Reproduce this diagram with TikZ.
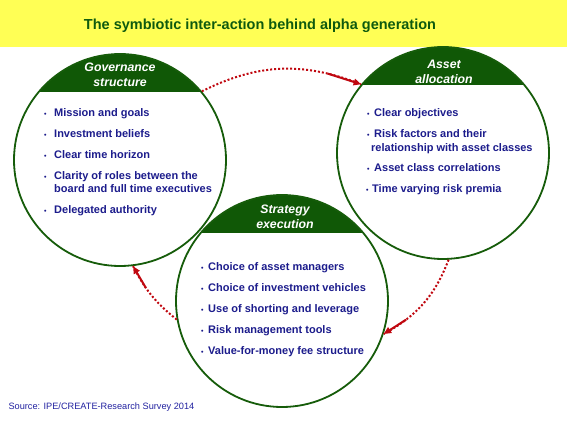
\documentclass[tikz,border=0pt]{standalone}
\usepackage{fontspec}
\setmainfont{Liberation Sans}
\usetikzlibrary{arrows.meta, calc}

\definecolor{bandyellow}{RGB}{255,255,85}
\definecolor{titlegreen}{RGB}{14,90,14}
\definecolor{ringgreen}{RGB}{22,92,10}
\definecolor{hdrgreen}{RGB}{16,88,6}
\definecolor{itemblue}{RGB}{28,28,140}
\definecolor{srcblue}{RGB}{34,34,160}
\definecolor{arrowred}{RGB}{192,8,16}

\newcommand{\itm}[2][10pt]{\makebox[#1][l]{\fontsize{7}{7}\selectfont\textbullet}#2}

\begin{document}
\begin{tikzpicture}[x=1pt, y=-1pt, >={Triangle[length=7.5pt, width=6.5pt]},
    ring/.style={circle, draw=ringgreen, fill=white, line width=1.8pt, minimum size=212pt, inner sep=0pt,
        path picture={\fill[hdrgreen] (path picture bounding box.north west) rectangle ([yshift=-38pt]path picture bounding box.north east);}},
    head/.style={text=white, font=\fontsize{12.3}{15.5}\selectfont\bfseries\itshape, align=center, inner sep=0pt},
    item/.style={text=itemblue, font=\fontsize{11}{13.5}\selectfont\bfseries, anchor=base west, inner sep=0pt},
    loopdots/.style={draw=arrowred, line width=2pt, dash pattern=on 2pt off 2pt},
    loophead/.style={draw=arrowred, line width=2pt, ->}]
    \useasboundingbox (0,0) rectangle (567,425);
    \fill[bandyellow] (0,0) rectangle (567,47);
    \node[text=titlegreen, font=\fontsize{14.5}{16}\selectfont\bfseries, anchor=base] (title) at (260,29.5) {The symbiotic inter-action behind alpha generation};

    % the three circles
    \node[ring] (gov) at (120,160) {};
    \node[ring] (asset) at (443,153) {};
    \node[ring] (strat) at (282,301) {};

    \node[head] (govhead) at (120,75) {Governance\\structure};
    \node[head] (assethead) at (444,72) {Asset\\allocation};
    \node[head] (strathead) at (285,217) {Strategy\\execution};

    % governance items
    \node[item] (gov1) at (44,116.5) {\itm{Mission and goals}};
    \node[item] (gov2) at (44,137.5) {\itm{Investment beliefs}};
    \node[item] (gov3) at (44,158.5) {\itm{Clear time horizon}};
    \node[item] (gov4) at (44,179) {\itm{Clarity of roles between the}};
    \node[item] (gov4b) at ([xshift=10pt, yshift=-13.5pt]gov4.base west) {board and full time executives};
    \node[item] (gov5) at (44,213.5) {\itm{Delegated authority}};

    % asset allocation items
    \node[item] (asset1) at (367,116.5) {\itm[7pt]{Clear objectives}};
    \node[item] (asset2) at (367,137.5) {\itm[7pt]{Risk factors and their}};
    \node[item] (asset2b) at ([xshift=4pt, yshift=-14pt]asset2.base west) {relationship with asset classes};
    \node[item] (asset3) at (367,171.5) {\itm[7pt]{Asset class correlations}};
    \node[item] (asset4) at (366,192.5) {\itm[6pt]{Time varying risk premia}};

    % strategy items
    \node[item] (strat1) at (201,270.5) {\itm[7pt]{Choice of asset managers}};
    \node[item] (strat2) at (201,291.5) {\itm[7pt]{Choice of investment vehicles}};
    \node[item] (strat3) at (201,312.5) {\itm[7pt]{Use of shorting and leverage}};
    \node[item] (strat4) at (201,333.5) {\itm[7pt]{Risk management tools}};
    \node[item] (strat5) at (201,354.5) {\itm[7pt]{Value-for-money fee structure}};

    % the cycle
    \draw[loopdots] (gov.40) to[bend left=24] coordinate[pos=0.8] (g2a) (asset.140);
    \draw[loophead] (g2a) -- (asset.140);
    \draw[loopdots] (asset.-87) to[bend left=20] coordinate[pos=0.75] (a2s) (strat.-18);
    \draw[loophead] (a2s) -- (strat.-18);
    \draw[loopdots] (strat.190) to[bend left=12] coordinate[pos=0.65] (s2g) (gov.-83);
    \draw[loophead] (s2g) -- (gov.-83);

    \node[text=srcblue, font=\fontsize{9.2}{11}\selectfont, anchor=base west] (source) at (5,409.5) {Source: IPE/CREATE-Research Survey 2014};
\end{tikzpicture}
\end{document}
